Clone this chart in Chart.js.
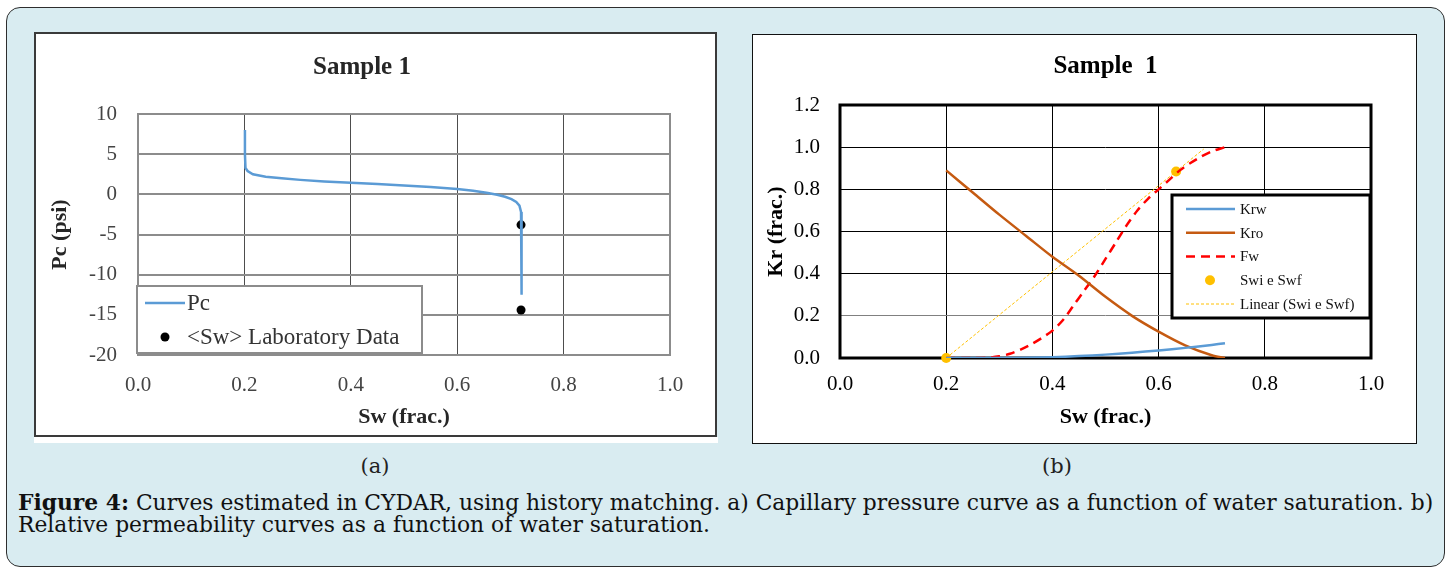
<!DOCTYPE html>
<html>
<head>
<meta charset="utf-8">
<title>Figure 4</title>
<script src="https://cdn.jsdelivr.net/npm/chart.js@4.4.1/dist/chart.umd.min.js"></script>
<style>
  html, body { margin: 0; padding: 0; background: #fff; }
  body { width: 1447px; height: 569px; position: relative; overflow: hidden; }
  .frame { position: absolute; left: 6px; top: 7px; width: 1439px; height: 560px; box-sizing: border-box;
           background: #d9ecf1; border: 1.5px solid #2e2e2e; border-radius: 14px; }
  .box { position: absolute; box-sizing: border-box; background: #fff; }
  #boxA { left: 34px; top: 32px; width: 683px; height: 405px; border: 2px solid #3a3a3a; }
  #stripA { left: 34px; top: 437px; width: 684px; height: 6px; }
  #boxB { left: 752px; top: 34px; width: 665px; height: 410px; border: 1.5px solid #111; }
  canvas { position: absolute; }
  #pcChart { left: 34px; top: 32px; }
  #krChart { left: 752px; top: 34px; }
  .sub { position: absolute; top: 454px; font-family: "DejaVu Serif", serif; font-size: 21px; color: #222;
         transform: translateX(-50%); }
  .caption { position: absolute; left: 18px; top: 492px; font-family: "DejaVu Serif", serif; font-size: 21.8px;
             line-height: 22px; color: #111; white-space: nowrap; }
</style>
</head>
<body>
<div class="frame"></div>
<div class="box" id="boxA"></div>
<div class="box" id="stripA"></div>
<div class="box" id="boxB"></div>
<canvas id="pcChart" width="683" height="405"></canvas>
<canvas id="krChart" width="665" height="410"></canvas>
<div class="sub" style="left:375px">(a)</div>
<div class="sub" style="left:1057px">(b)</div>
<div class="caption"><b>Figure 4:</b> Curves estimated in CYDAR, using history matching. a) Capillary pressure curve as a function of water saturation. b)<br>Relative permeability curves as a function of water saturation.</div>

<script>
"use strict";

const SERIF = '"Liberation Serif", "Times New Roman", serif';

// water saturation axis, shared by both plots
const swTicks = [0, 0.2, 0.4, 0.6, 0.8, 1.0];

// (a) capillary pressure vs Sw
const pcTicks = [-20, -15, -10, -5, 0, 5, 10];
const pcSw  = [0.201, 0.201, 0.202, 0.206, 0.216, 0.24, 0.27, 0.305, 0.35, 0.4, 0.45, 0.5,
               0.55, 0.6, 0.63, 0.655, 0.675, 0.69, 0.702, 0.711, 0.717, 0.72, 0.721, 0.721];
const pcPsi = [8.0, 5.0, 3.3, 2.9, 2.5, 2.2, 2.0, 1.8, 1.6, 1.45, 1.3, 1.1,
               0.9, 0.65, 0.45, 0.2, -0.05, -0.3, -0.6, -0.95, -1.4, -2.2, -4.0, -12.5];
const labSw = [0.72, 0.72];
const labPc = [-3.8, -14.4];

// (b) relative permeability and fractional flow vs Sw
const krTicks = [0, 0.2, 0.4, 0.6, 0.8, 1.0, 1.2];
const krSw = [0.2, 0.25, 0.3, 0.35, 0.4, 0.45, 0.5, 0.55, 0.6, 0.65, 0.7, 0.725];
const krw  = [0, 0, 0, 0.001, 0.004, 0.009, 0.016, 0.025, 0.036, 0.048, 0.062, 0.07];
const kro  = [0.89, 0.785, 0.68, 0.58, 0.48, 0.39, 0.29, 0.2, 0.125, 0.06, 0.013, 0];
const fwSw = [0.2, 0.25, 0.28, 0.3, 0.32, 0.34, 0.36, 0.38, 0.4, 0.42, 0.44, 0.46, 0.48,
              0.5, 0.52, 0.54, 0.56, 0.58, 0.6, 0.62, 0.64, 0.66, 0.68, 0.7, 0.725];
const fw   = [0, 0, 0.002, 0.008, 0.02, 0.04, 0.065, 0.095, 0.13, 0.18, 0.25, 0.32, 0.39,
              0.47, 0.55, 0.63, 0.7, 0.755, 0.8, 0.845, 0.89, 0.925, 0.955, 0.98, 1.0];
const swiSwfSw = [0.2, 0.633];
const swiSwfFw = [0, 0.885];
const trendEndSw = 0.685;

function pairs(xs, ys) {
    return xs.map((x, i) => ({ x: x, y: ys[i] }));
}

// straight line through Swi and Swf, carried forward to trendEndSw
function linearTrend(xs, ys, xEnd) {
    const slope = (ys[1] - ys[0]) / (xs[1] - xs[0]);
    return [
        { x: xs[0], y: ys[0] },
        { x: xEnd, y: ys[0] + slope * (xEnd - xs[0]) }
    ];
}

function fixedTicks(values) {
    return function (scale) {
        scale.ticks = values.map(v => ({ value: v }));
    };
}

// border round the plot area
const plotFrame = {
    id: 'plotFrame',
    beforeDatasetsDraw(chart, args, opts) {
        const a = chart.chartArea, ctx = chart.ctx;
        ctx.save();
        ctx.strokeStyle = opts.color;
        ctx.lineWidth = opts.width;
        ctx.strokeRect(a.left, a.top, a.right - a.left, a.bottom - a.top);
        ctx.restore();
    }
};

// boxed legend sitting inside the plot area
const boxLegend = {
    id: 'boxLegend',
    afterDraw(chart, args, o) {
        const a = chart.chartArea, ctx = chart.ctx;
        const x = a.left + o.left, y = a.top + o.top;
        ctx.save();
        ctx.fillStyle = '#fff';
        ctx.fillRect(x, y, o.width, o.height);
        ctx.strokeStyle = o.borderColor;
        ctx.lineWidth = o.borderWidth;
        ctx.strokeRect(x, y, o.width, o.height);

        ctx.font = o.fontSize + 'px ' + SERIF;
        ctx.textBaseline = 'middle';
        ctx.textAlign = 'left';
        chart.data.datasets.forEach(function (ds, i) {
            const rowY = y + o.firstRow + i * o.rowGap;
            if (ds.showLine === false) {
                ctx.beginPath();
                ctx.fillStyle = ds.pointBackgroundColor;
                ctx.arc(x + o.dotX, rowY, ds.pointRadius, 0, Math.PI * 2);
                ctx.fill();
            } else {
                ctx.beginPath();
                ctx.strokeStyle = ds.borderColor;
                ctx.lineWidth = ds.borderWidth;
                ctx.setLineDash(ds.borderDash || []);
                ctx.moveTo(x + o.lineFrom, rowY);
                ctx.lineTo(x + o.lineTo, rowY);
                ctx.stroke();
                ctx.setLineDash([]);
            }
            ctx.fillStyle = o.color;
            ctx.fillText(ds.label, x + o.textX, rowY + 1);
        });
        ctx.restore();
    }
};

Chart.register(plotFrame, boxLegend);

new Chart(document.getElementById('pcChart'), {
    type: 'scatter',
    data: {
        datasets: [
            {
                label: 'Pc',
                data: pairs(pcSw, pcPsi),
                showLine: true,
                borderColor: '#5b9bd5',
                borderWidth: 2.5,
                pointRadius: 0,
                tension: 0
            },
            {
                label: '<Sw> Laboratory Data',
                data: pairs(labSw, labPc),
                showLine: false,
                pointRadius: 4.5,
                pointBackgroundColor: '#000',
                borderColor: '#000',
                pointBorderWidth: 0
            }
        ]
    },
    options: {
        responsive: false,
        animation: false,
        events: [],
        // left padding nudges the centred title; the y axis width makes up the rest
        layout: { padding: { left: 20, right: 47, top: 0, bottom: 0 } },
        plugins: {
            legend: { display: false },
            tooltip: { enabled: false },
            title: {
                display: true,
                text: 'Sample 1',
                font: { family: SERIF, size: 25, weight: 'bold' },
                color: '#262626',
                padding: { top: 21, bottom: 31 }
            },
            plotFrame: { color: '#8c8c8c', width: 2 },
            boxLegend: {
                left: -1, top: 172, width: 285, height: 67,
                borderColor: '#8c8c8c', borderWidth: 2,
                firstRow: 17, rowGap: 34,
                lineFrom: 8, lineTo: 48, dotX: 28, textX: 50,
                fontSize: 23, color: '#333'
            }
        },
        scales: {
            x: {
                type: 'linear',
                min: 0, max: 1,
                afterBuildTicks: fixedTicks(swTicks),
                afterFit: s => { s.height = 82; },
                ticks: { font: { family: SERIF, size: 21 }, color: '#444', padding: 18,
                         callback: v => v.toFixed(1) },
                grid: { color: '#4d4d4d', lineWidth: 1, drawTicks: false },
                border: { display: false },
                title: { display: true, text: 'Sw (frac.)', color: '#262626',
                         font: { family: SERIF, size: 22, weight: 'bold' },
                         padding: { top: 0, bottom: 6 } }
            },
            y: {
                min: -20, max: 10,
                afterBuildTicks: fixedTicks(pcTicks),
                afterFit: s => { s.width = 84; },
                ticks: { font: { family: SERIF, size: 21 }, color: '#444', padding: 21 },
                grid: { color: '#8c8c8c', lineWidth: 2, drawTicks: false },
                border: { display: false },
                title: { display: true, text: 'Pc (psi)', color: '#262626',
                         font: { family: SERIF, size: 22, weight: 'bold' },
                         padding: { top: -7, bottom: 0 } }
            }
        }
    }
});

new Chart(document.getElementById('krChart'), {
    type: 'scatter',
    data: {
        datasets: [
            {
                label: 'Krw',
                data: pairs(krSw, krw),
                showLine: true,
                borderColor: '#5b9bd5',
                borderWidth: 2.5,
                pointRadius: 0,
                tension: 0.3
            },
            {
                label: 'Kro',
                data: pairs(krSw, kro),
                showLine: true,
                borderColor: '#c55a11',
                borderWidth: 2.5,
                pointRadius: 0,
                tension: 0.3
            },
            {
                label: 'Fw',
                data: pairs(fwSw, fw),
                showLine: true,
                borderColor: '#ff0000',
                borderWidth: 2.5,
                borderDash: [9, 6],
                pointRadius: 0,
                tension: 0.3
            },
            {
                label: 'Swi e Swf',
                data: pairs(swiSwfSw, swiSwfFw),
                showLine: false,
                pointRadius: 5,
                pointBackgroundColor: '#ffc000',
                borderColor: '#ffc000',
                pointBorderWidth: 0,
                clip: false
            },
            {
                label: 'Linear (Swi e Swf)',
                data: linearTrend(swiSwfSw, swiSwfFw, trendEndSw),
                showLine: true,
                borderColor: '#ffc000',
                borderWidth: 1,
                borderDash: [3, 2],
                pointRadius: 0
            }
        ]
    },
    options: {
        responsive: false,
        animation: false,
        events: [],
        layout: { padding: { left: 0, right: 46, top: 0, bottom: 0 } },
        plugins: {
            legend: { display: false },
            tooltip: { enabled: false },
            title: {
                display: true,
                fullSize: false,
                text: 'Sample  1',
                font: { family: SERIF, size: 25, weight: 'bold' },
                color: '#000',
                padding: { top: 18, bottom: 23 }
            },
            plotFrame: { color: '#000', width: 3 },
            boxLegend: {
                left: 332, top: 90, width: 198, height: 123,
                borderColor: '#000', borderWidth: 3,
                firstRow: 14, rowGap: 23.75,
                lineFrom: 14, lineTo: 63, dotX: 38, textX: 68,
                fontSize: 15, color: '#111'
            }
        },
        scales: {
            x: {
                type: 'linear',
                min: 0, max: 1,
                afterBuildTicks: fixedTicks(swTicks),
                afterFit: s => { s.height = 86; },
                ticks: { font: { family: SERIF, size: 21 }, color: '#000', padding: 14,
                         callback: v => v.toFixed(1) },
                grid: { color: '#000', lineWidth: 1, drawTicks: false },
                border: { display: false },
                title: { display: true, text: 'Sw (frac.)', color: '#000',
                         font: { family: SERIF, size: 22, weight: 'bold' },
                         padding: { top: 0, bottom: 13 } }
            },
            y: {
                min: 0, max: 1.2,
                afterBuildTicks: fixedTicks(krTicks),
                afterFit: s => { s.width = 88; },
                ticks: { font: { family: SERIF, size: 21 }, color: '#000', padding: 20,
                         callback: v => v.toFixed(1) },
                grid: { color: ctx => ctx.tick && ctx.tick.value === 0.2 ? '#808080' : '#000',
                        lineWidth: 1, drawTicks: false },
                border: { display: false },
                title: { display: true, text: 'Kr (frac.)', color: '#000',
                         font: { family: SERIF, size: 22, weight: 'bold' },
                         padding: { top: 11, bottom: 0 } }
            }
        }
    }
});
</script>
</body>
</html>
